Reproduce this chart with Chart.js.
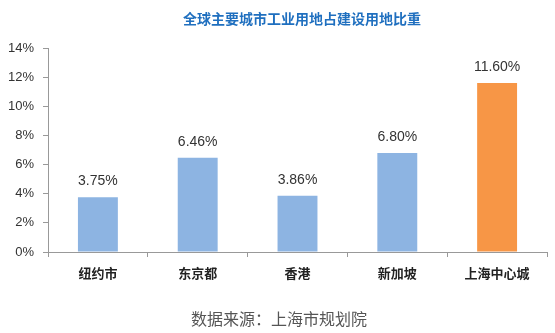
<!DOCTYPE html>
<html><head><meta charset="utf-8">
<script src="https://cdn.jsdelivr.net/npm/chart.js@4"></script>
<style>
html,body{margin:0;padding:0;background:#fff;}
#wrap{position:relative;width:555px;height:333px;}
#title{position:absolute;left:0;top:8px;width:604px;text-align:center;font:bold 14px "Noto Sans CJK SC",sans-serif;color:#1F6FBF;white-space:nowrap;}
#source{position:absolute;left:0;top:306px;width:558px;text-align:center;font:16px "Noto Sans CJK SC",sans-serif;color:#555;white-space:nowrap;}
canvas{position:absolute;left:0;top:0;}
</style></head>
<body>
<div id="wrap">
<canvas id="c" width="555" height="333"></canvas>
<div id="title">全球主要城市工业用地占建设用地比重</div>
<div id="source">数据来源：上海市规划院</div>
</div>
<script>
const categories = ["纽约市","东京都","香港","新加坡","上海中心城"];
const values = [3.75, 6.46, 3.86, 6.80, 11.60];
const valueLabels = ["3.75%","6.46%","3.86%","6.80%","11.60%"];
const barColors = ["#8DB4E2","#8DB4E2","#8DB4E2","#8DB4E2","#F79646"];
const yTicks = [0,2,4,6,8,10,12,14];

const labelPlugin = {
  id:'vlabels',
  afterDatasetsDraw(chart){
    const ctx = chart.ctx;
    const meta = chart.getDatasetMeta(0);
    ctx.save();
    ctx.font = '14px "Liberation Sans", Arial, sans-serif';
    ctx.fillStyle = '#333';
    ctx.textAlign = 'center';
    ctx.textBaseline = 'middle';
    meta.data.forEach((bar,i)=>{
      ctx.fillText(valueLabels[i], bar.x, bar.y - 16);
    });
    ctx.restore();
  }
};

new Chart(document.getElementById('c'), {
  type:'bar',
  data:{labels:categories, datasets:[{data:values, backgroundColor:barColors, borderWidth:0, categoryPercentage:0.8, barPercentage:0.5}]},
  options:{
    responsive:false, animation:false,
    layout:{padding:{top:48,bottom:51,right:8,left:0}},
    plugins:{legend:{display:false}, tooltip:{enabled:false}, title:{display:false}},
    scales:{
      x:{
        offset:true,
        grid:{offset:true, drawOnChartArea:false, drawTicks:true, tickLength:5, color:'#999'},
        border:{display:true, color:'#999'},
        ticks:{font:{family:'"Noto Sans CJK SC", sans-serif', size:13, weight:'bold'}, color:'#222', padding:8},
        afterFit(s){ s.height = 30; }
      },
      y:{
        min:0, max:14,
        afterBuildTicks(s){ s.ticks = yTicks.map(v=>({value:v})); },
        grid:{drawOnChartArea:false, drawTicks:true, tickLength:5, color:'#999'},
        border:{display:true, color:'#999'},
        ticks:{font:{family:'"Liberation Sans", Arial, sans-serif', size:13}, color:'#333', padding:9, callback:v=>v+'%'},
        afterFit(s){ s.width = 48; }
      }
    }
  },
  plugins:[labelPlugin]
});
</script>
</body></html>
